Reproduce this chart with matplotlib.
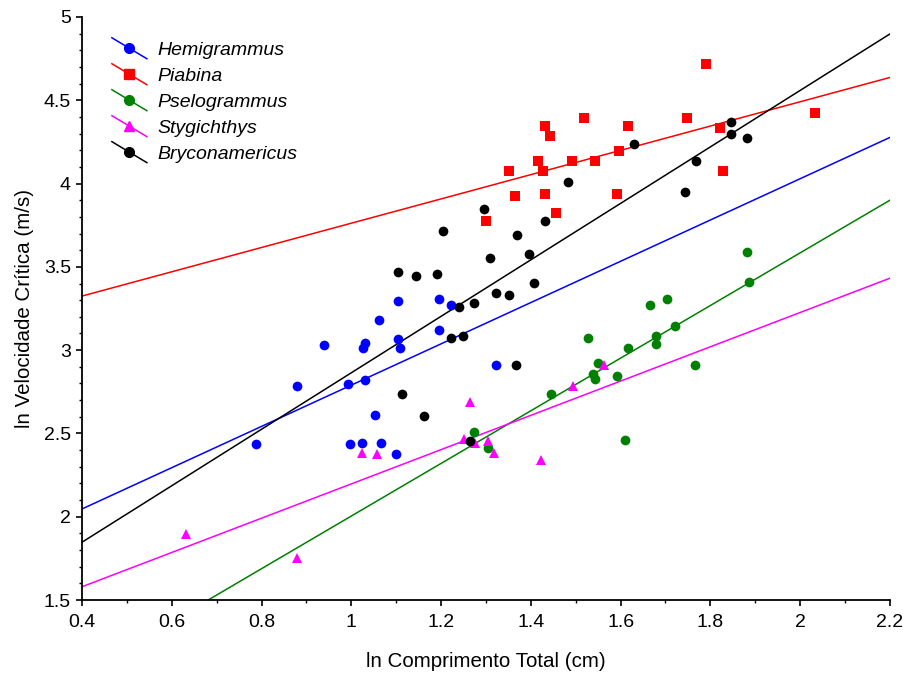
import numpy as np
import matplotlib
matplotlib.use('Agg')
import matplotlib.pyplot as plt
from matplotlib.lines import Line2D
from matplotlib.legend_handler import HandlerBase
from matplotlib.ticker import MultipleLocator

plt.rcParams['font.family'] = ['Liberation Sans', 'DejaVu Sans']

# ln comprimento total (x) e ln velocidade crítica (y) por gênero
hemi_x = [0.788, 0.879, 0.940, 0.992, 0.996, 1.023, 1.027, 1.031, 1.031, 1.053,
          1.062, 1.066, 1.100, 1.105, 1.105, 1.109, 1.196, 1.196, 1.222, 1.322]
hemi_y = [2.435, 2.783, 3.029, 2.795, 2.435, 2.445, 3.015, 3.041, 2.821, 2.609,
          3.179, 2.445, 2.377, 3.295, 3.065, 3.015, 3.307, 3.121, 3.271, 2.911]

piab_x = [1.300, 1.352, 1.365, 1.417, 1.426, 1.431, 1.431, 1.443, 1.457, 1.491,
          1.518, 1.543, 1.591, 1.596, 1.617, 1.747, 1.791, 1.821, 1.829, 2.034]
piab_y = [3.774, 4.077, 3.926, 4.136, 4.077, 4.346, 3.938, 4.286, 3.822, 4.136,
          4.392, 4.136, 3.938, 4.194, 4.346, 4.392, 4.718, 4.336, 4.077, 4.426]

psel_x = [1.274, 1.304, 1.444, 1.527, 1.538, 1.543, 1.549, 1.592, 1.609, 1.617,
          1.665, 1.678, 1.678, 1.704, 1.721, 1.765, 1.881, 1.887]
psel_y = [2.507, 2.411, 2.737, 3.075, 2.855, 2.829, 2.923, 2.843, 2.459, 3.015,
          3.271, 3.087, 3.039, 3.307, 3.143, 2.913, 3.588, 3.411]

styg_x = [0.632, 0.880, 1.023, 1.057, 1.252, 1.265, 1.275, 1.304, 1.318, 1.422,
          1.495, 1.564]
styg_y = [1.895, 1.755, 2.385, 2.375, 2.465, 2.687, 2.441, 2.455, 2.385, 2.339,
          2.785, 2.913]

bryc_x = [1.105, 1.113, 1.144, 1.161, 1.191, 1.205, 1.222, 1.240, 1.248, 1.265,
          1.274, 1.296, 1.309, 1.322, 1.352, 1.366, 1.369, 1.396, 1.408, 1.431,
          1.483, 1.630, 1.743, 1.768, 1.847, 1.847, 1.882]
bryc_y = [3.471, 2.735, 3.445, 2.607, 3.459, 3.717, 3.075, 3.261, 3.087, 2.457,
          3.285, 3.846, 3.552, 3.342, 3.330, 2.913, 3.692, 3.577, 3.402, 3.776,
          4.008, 4.240, 3.950, 4.136, 4.368, 4.298, 4.276]

# retas de regressão: y = a + b*x
names = ['Hemigrammus', 'Piabina', 'Pselogrammus', 'Stygichthys', 'Bryconamericus']
intercepts = [1.551, 3.033, 0.424, 1.168, 1.169]
slopes = [1.239, 0.729, 1.580, 1.029, 1.695]

xs = [hemi_x, piab_x, psel_x, styg_x, bryc_x]
ys = [hemi_y, piab_y, psel_y, styg_y, bryc_y]
colors = ['#0000FF', '#FF0000', '#008000', '#FF00FF', '#000000']
markers = ['o', 's', 'o', '^', 'o']
msizes = [7, 6.5, 7, 7, 7]


class DiagonalHandler(HandlerBase):
    # linha inclinada com o marcador no meio
    def create_artists(self, legend, orig_handle, xdescent, ydescent,
                       width, height, fontsize, trans):
        yc = height / 2 - ydescent
        x0, x1 = -xdescent, width - xdescent
        ln = Line2D([x0, x1], [yc + 0.3 * width, yc - 0.3 * width],
                    color=orig_handle.get_color(), lw=1.1)
        mk = Line2D([(x0 + x1) / 2], [yc], linestyle='none',
                    marker=orig_handle.get_marker(),
                    markersize=orig_handle.get_markersize(),
                    color=orig_handle.get_color())
        ln.set_transform(trans)
        mk.set_transform(trans)
        return [ln, mk]


fig = plt.figure(figsize=(9.09, 6.76), dpi=100)
ax = fig.add_axes([0.0902, 0.1124, 0.8888, 0.8625])

xline = np.array([0.4, 2.2])
handles = []
for i in range(5):
    ax.plot(xline, intercepts[i] + slopes[i] * xline, color=colors[i], lw=1.1, zorder=2)
for i in range(5):
    ax.plot(xs[i], ys[i], linestyle='none', marker=markers[i], markersize=msizes[i],
            color=colors[i], markeredgewidth=0, zorder=3)
    handles.append(Line2D([], [], color=colors[i], marker=markers[i], markersize=msizes[i],
                          markeredgewidth=0))

ax.set_xlim(0.4, 2.2)
ax.set_ylim(1.5, 5)
ax.xaxis.set_major_locator(MultipleLocator(0.2))
ax.xaxis.set_minor_locator(MultipleLocator(0.1))
ax.yaxis.set_major_locator(MultipleLocator(0.5))
ax.yaxis.set_minor_locator(MultipleLocator(0.1))
ax.set_xticklabels([f'{v:g}' for v in ax.get_xticks()])
ax.set_yticklabels([f'{v:g}' for v in ax.get_yticks()])
ax.tick_params(which='major', direction='out', length=4, width=1.2, labelsize=14)
ax.tick_params(axis='x', which='major', pad=6)
ax.tick_params(axis='y', which='major', pad=4)
ax.tick_params(which='minor', direction='out', length=2.5, width=1)
ax.spines['top'].set_visible(False)
ax.spines['right'].set_visible(False)
ax.spines['left'].set_linewidth(1.3)
ax.spines['bottom'].set_linewidth(1.3)

ax.set_xlabel('ln Comprimento Total (cm)', fontsize=14.8, labelpad=15)
ax.set_ylabel('ln Velocidade Crítica (m/s)', fontsize=14.8, labelpad=7)

leg = ax.legend(handles, names, loc='upper left', bbox_to_anchor=(0.037, 0.958),
                frameon=False, borderpad=0, borderaxespad=0, handlelength=1.8,
                handletextpad=0.55, labelspacing=0.43,
                prop={'style': 'italic', 'size': 14},
                handler_map={Line2D: DiagonalHandler()})

fig.savefig('out.png', dpi=100)
